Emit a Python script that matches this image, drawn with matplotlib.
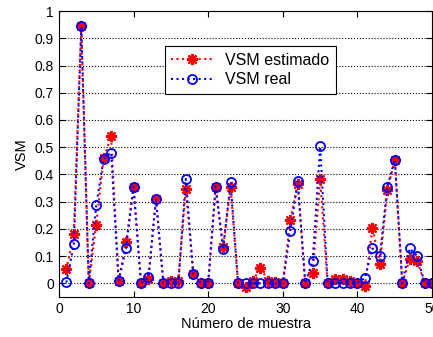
import matplotlib
matplotlib.use('Agg')
from matplotlib import pyplot as plt

plt.rcParams['font.family'] = ['Liberation Sans', 'DejaVu Sans']

# sample number
muestra = list(range(1, 51))

# estimated VSM
vsm_estimado = [0.051, 0.18, 0.945, 0.0, 0.216, 0.46, 0.54, 0.01, 0.15, 0.355,
                0.0, 0.015, 0.311, 0.0, 0.01, 0.01, 0.348, 0.035, 0.0, 0.0,
                0.355, 0.133, 0.353, 0.0, -0.012, 0.01, 0.057, 0.01, 0.005, 0.0,
                0.232, 0.365, 0.0, 0.036, 0.385, 0.0, 0.015, 0.015, 0.01, 0.0,
                -0.01, 0.204, 0.072, 0.342, 0.454, 0.0, 0.088, 0.082, 0.0, 0.0]

# real VSM
vsm_real = [0.003, 0.143, 0.945, 0.0, 0.286, 0.458, 0.48, 0.008, 0.128, 0.355,
            0.0, 0.022, 0.311, 0.0, 0.0, 0.0, 0.384, 0.035, 0.0, 0.0,
            0.355, 0.125, 0.371, 0.0, 0.0, 0.0, 0.0, 0.0, 0.0, 0.0,
            0.192, 0.375, 0.0, 0.082, 0.503, 0.0, 0.0, 0.0, 0.0, 0.0,
            0.02, 0.128, 0.1, 0.354, 0.454, 0.0, 0.128, 0.1, 0.0, 0.0]

fig = plt.figure(figsize=(4.33, 3.37), dpi=100)
ax = fig.add_axes([0.136, 0.119, 0.862, 0.848])

# matlab-ish asterisk marker
ax.plot(muestra, vsm_estimado, color='red', linestyle=':', linewidth=1.5,
        marker=(8, 2, 0), markersize=8, markeredgewidth=1.6, label='VSM estimado')
ax.plot(muestra, vsm_real, color='blue', linestyle=':', linewidth=1.5,
        marker='o', markersize=6.5, markerfacecolor='none', markeredgewidth=1.3,
        label='VSM real')

ax.set_xlim(0, 50)
ax.set_ylim(-0.05, 1)
ax.set_xticks([0, 10, 20, 30, 40, 50])
ax.set_yticks([0, 0.1, 0.2, 0.3, 0.4, 0.5, 0.6, 0.7, 0.8, 0.9, 1])
ax.set_yticklabels(['0', '0.1', '0.2', '0.3', '0.4', '0.5', '0.6', '0.7', '0.8', '0.9', '1'])
ax.tick_params(direction='in', top=True, right=True, labelsize=10, length=4)
ax.yaxis.grid(True, color='black', linestyle=':', linewidth=0.8)

ax.set_xlabel('Número de muestra', fontsize=10.5, labelpad=1)
ax.set_ylabel('VSM', fontsize=10.5, labelpad=4)

leg = ax.legend(loc='upper left', bbox_to_anchor=(0.262, 0.905), fontsize=11.5,
                frameon=True, fancybox=False, framealpha=1, edgecolor='black',
                handlelength=2.6, borderpad=0.4, labelspacing=0.3)
leg.get_frame().set_linewidth(0.8)

plt.savefig('out.png', dpi=100)
